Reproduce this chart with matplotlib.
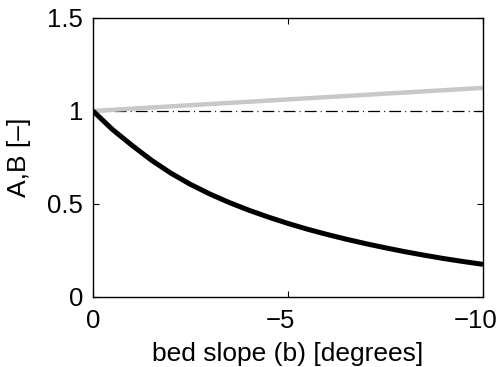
import matplotlib
matplotlib.use("Agg")
import matplotlib.pyplot as plt
from matplotlib.transforms import ScaledTranslation

plt.rcParams['font.family'] = ['Liberation Sans', 'DejaVu Sans']

# bed slope in degrees (negative = downslope)
slope = [0, -0.5, -1, -1.5, -2, -2.5, -3, -3.5, -4, -4.5, -5,
         -5.5, -6, -6.5, -7, -7.5, -8, -8.5, -9, -9.5, -10]
# coefficient A (decays with slope)
coef_a = [1.0, 0.90, 0.815, 0.735, 0.665, 0.605, 0.553, 0.507, 0.466, 0.429, 0.395,
          0.364, 0.336, 0.310, 0.286, 0.264, 0.243, 0.224, 0.206, 0.190, 0.175]
# coefficient B (slight growth with slope)
slope_b = [0, -10]
coef_b = [1.0, 1.124]
# reference level
ref_level = 1.0

xticks = [0, -5, -10]
yticks = [0, 0.5, 1, 1.5]

fig = plt.figure(figsize=(5.0, 3.67), dpi=100)
ax = fig.add_axes([0.186, 0.191, 0.780, 0.760])

ax.axhline(ref_level, color='black', lw=0.9, dashes=(9.5, 3.3, 0.8, 3.3))
ax.plot(slope_b, coef_b, color='#c8c8c8', lw=3.2, solid_capstyle='butt')
ax.plot(slope, coef_a, color='black', lw=3.6, solid_capstyle='butt')

ax.set_xlim(0, -10)
ax.set_ylim(0, 1.5)
ax.set_xticks(xticks)
ax.set_yticks(yticks)
ax.set_xticklabels([f'{v:g}'.replace('-', '\u2212') for v in xticks])
ax.set_yticklabels([f'{v:g}' for v in yticks])

ax.tick_params(direction='in', top=True, right=True, length=4, width=0.8,
               labelsize=18.5, pad=7)
ax.tick_params(axis='x', pad=9)
for sp in ax.spines.values():
    sp.set_linewidth(1.0)

# keep the digits centred on the tick, the minus sign hangs to the left
for v, lab in zip(xticks, ax.get_xticklabels()):
    if v < 0:
        shift = ScaledTranslation(-5.4 / 72, 0, fig.dpi_scale_trans)
        lab.set_transform(lab.get_transform() + shift)

ax.set_xlabel('bed slope (b) [degrees]', fontsize=19, labelpad=6)
ax.set_ylabel('A,B [\u2013]', fontsize=19, labelpad=12)

fig.savefig('out.png', dpi=100)
